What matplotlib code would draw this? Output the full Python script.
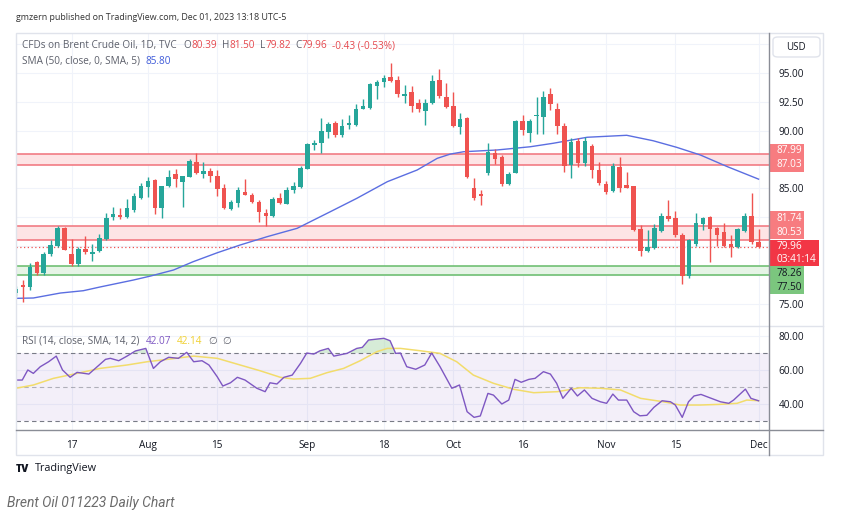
import matplotlib
matplotlib.use("Agg")
import matplotlib.pyplot as plt
from matplotlib.patches import Rectangle, FancyBboxPatch
from matplotlib.lines import Line2D

W, H = 843, 523
FONT = ['Open Sans', 'DejaVu Sans']

# ---- daily candles, Jul 5 .. Dec 1 2023 (bar index 0..107) ----
opens = [75.95, 76.65, 76.45, 78.6, 77.7, 79.33, 80.0, 81.55, 79.3, 78.45,
         79.76, 79.3, 79.6, 80.6, 82.5, 82.7, 82.5, 83.13, 84.2, 85.1,
         85.73, 83.28, 85.2, 86.24, 85.58, 85.96, 87.3, 86.27, 86.5, 86.07,
         85.0, 83.2, 83.77, 84.7, 84.43, 83.85, 82.9, 82.64, 84.2, 83.65,
         84.9, 85.1, 86.68, 88.72, 88.9, 89.9, 90.68, 89.6, 90.45, 90.48,
         91.86, 91.92, 93.85, 94.17, 94.65, 94.37, 93.0, 93.3, 92.36, 91.72,
         92.36, 94.37, 92.93, 92.12, 90.33, 91.06, 85.0, 84.49, 86.36, 88.09,
         87.69, 85.38, 86.36, 90.85, 89.76, 91.26, 91.2, 93.16, 91.84, 90.4,
         87.02, 89.12, 87.22, 88.66, 86.6, 85.38, 84.8, 86.88, 85.27, 85.2,
         81.46, 79.6, 79.82, 81.34, 82.6, 82.4, 80.97, 77.43, 80.2, 81.92,
         82.55, 81.55, 81.26, 80.2, 79.96, 81.34, 82.6, 80.39]
highs = [76.6, 77.08, 78.55, 78.75, 79.5, 80.5, 81.75, 81.7, 80.65, 79.95,
         80.9, 80.2, 81.1, 82.9, 83.4, 83.28, 84.06, 84.58, 85.49, 85.96,
         85.8, 85.2, 86.6, 86.65, 86.07, 87.51, 88.1, 87.3, 86.74, 86.6,
         85.38, 84.0, 85.1, 85.8, 84.58, 84.0, 83.2, 84.28, 84.63, 85.1,
         85.58, 86.9, 88.9, 89.18, 91.06, 90.77, 90.85, 91.0, 91.34, 92.3,
         92.7, 94.1, 94.37, 94.8, 95.86, 94.71, 93.94, 93.88, 92.7, 92.7,
         94.8, 95.3, 94.14, 93.3, 91.5, 91.15, 85.87, 84.86, 88.95, 88.38,
         87.89, 86.44, 90.9, 91.34, 90.97, 92.93, 93.44, 93.65, 92.41, 90.63,
         89.33, 89.33, 89.42, 88.84, 87.3, 85.67, 87.17, 87.74, 86.44, 85.2,
         81.84, 81.4, 81.92, 82.85, 84.0, 83.07, 81.12, 80.6, 82.9, 82.5,
         82.6, 81.69, 82.04, 80.97, 81.55, 82.9, 84.63, 81.50]
lows = [75.7, 75.18, 76.2, 77.5, 77.5, 79.2, 79.9, 79.65, 78.3, 78.3,
        79.3, 78.75, 79.5, 80.5, 82.27, 82.33, 82.42, 82.99, 84.06, 84.3,
        82.8, 82.4, 85.1, 85.1, 83.37, 85.96, 86.24, 85.9, 85.58, 84.34,
        83.22, 83.13, 83.4, 84.4, 83.76, 82.07, 81.75, 82.55, 83.65, 83.63,
        84.63, 85.05, 86.65, 88.3, 88.1, 89.33, 89.47, 89.42, 90.13, 90.42,
        91.84, 91.85, 92.75, 93.8, 94.2, 92.93, 92.36, 91.6, 91.63, 90.48,
        92.3, 92.79, 91.92, 90.33, 89.7, 85.9, 84.0, 83.57, 86.16, 87.1,
        85.23, 85.29, 86.3, 89.6, 89.04, 89.7, 89.7, 91.78, 89.7, 86.44,
        85.87, 86.88, 86.9, 85.87, 85.3, 84.52, 84.7, 84.72, 85.0, 81.34,
        79.2, 79.5, 79.74, 81.26, 82.2, 80.83, 76.74, 77.3, 80.02, 81.4,
        78.67, 80.02, 79.96, 79.1, 79.82, 81.26, 80.19, 79.82]
closes = [76.35, 76.48, 78.25, 77.7, 79.3, 80.1, 81.55, 79.7, 78.45, 79.8,
          79.48, 79.53, 80.7, 82.47, 82.8, 82.5, 83.3, 84.37, 85.2, 85.67,
          83.28, 85.2, 85.96, 85.79, 86.07, 87.4, 86.3, 86.5, 86.1, 84.95,
          83.33, 83.8, 84.86, 84.46, 83.85, 82.98, 82.64, 84.08, 83.76, 84.86,
          85.2, 86.8, 88.86, 88.95, 89.98, 90.57, 89.6, 90.4, 90.63, 91.84,
          92.12, 94.02, 94.2, 94.5, 94.28, 93.13, 93.18, 92.15, 91.86, 92.41,
          94.3, 93.0, 92.0, 90.42, 90.97, 85.96, 84.2, 84.37, 88.17, 87.54,
          85.38, 86.22, 90.85, 90.05, 90.85, 91.34, 92.93, 92.3, 90.4, 86.94,
          89.04, 87.22, 89.12, 86.6, 85.44, 84.71, 86.94, 85.0, 85.06, 81.4,
          79.6, 79.96, 81.55, 82.64, 82.33, 80.97, 77.43, 80.54, 81.98, 82.41,
          81.46, 80.97, 80.03, 79.96, 81.46, 82.6, 80.4, 79.96]

tick_idx = [8, 19, 29, 42, 53, 63, 73, 85, 95, 107]
tick_labels = ['17', 'Aug', '15', 'Sep', '18', 'Oct', '16', 'Nov', '15', 'Dec']

# SMA(50) read at points along the line
sma_idx = [0, 2.5, 6.4, 9.7, 12.1, 16.9, 19.4, 22.7, 25.5, 29, 32.3, 36.2, 38.1,
           40.5, 45.3, 49.1, 53.5, 57.8, 60.7, 62.6, 64.5, 69.3, 74.1, 77.4,
           82.3, 88, 91.8, 95.2, 98.6, 102.5, 107]
sma_vals = [75.5, 75.53, 75.96, 76.16, 76.48, 77.08, 77.43, 77.95, 78.66, 79.44,
            80.11, 80.83, 81.15, 81.55, 82.99, 84.14, 85.58, 86.59, 87.6, 87.97,
            88.17, 88.32, 88.6, 88.9, 89.42, 89.59, 89.12, 88.55, 87.89, 86.88, 85.8]

# RSI(14) vertices
rsi_idx = [0, 0.9, 1.7, 2.5, 3.5, 4.7, 5.8, 6.7, 7.8, 8.8, 10.5, 11.7, 12.9, 13.6,
           14.8, 16.0, 17.2, 18.7, 19.8, 20.8, 22.0, 23.4, 24.6, 25.6, 26.8, 27.8,
           29.0, 29.8, 30.9, 31.9, 33.0, 34.7, 35.9, 36.6, 37.6, 38.6, 39.8, 41.0,
           41.9, 42.9, 43.8, 45.0, 45.8, 47.7, 49.1, 49.9, 50.8, 53.0, 53.9, 54.7,
           55.4, 56.3, 57.6, 58.9, 59.9, 61.1, 62.8, 63.9, 65.0, 66.0, 66.9, 68.0,
           68.8, 70.0, 71.0, 71.9, 72.8, 73.9, 74.8, 76.0, 77.0, 77.9, 78.8, 80.0,
           80.9, 81.9, 83.0, 84.2, 85.1, 86.0, 86.8, 88.0, 89.0, 89.9, 90.9, 91.9,
           93.1, 94.3, 95.0, 96.0, 96.9, 97.7, 98.7, 99.8, 101.5, 102.7, 103.4,
           105.1, 105.9, 107]
rsi_vals = [54.2, 54.2, 60.1, 58.1, 62, 64.9, 68.2, 60.1, 55.8, 58.7, 57.7, 62,
            66.3, 66.9, 65.5, 68.2, 71.2, 72.7, 61, 64.9, 67.5, 66.9, 70.4, 64.9,
            65.5, 63, 56.1, 50.7, 52.6, 55.8, 54.2, 49.4, 47.4, 52.6, 51.9, 55.8,
            57.1, 64, 70, 69.4, 71.3, 72.7, 68.2, 69.8, 72.7, 73.3, 77.6, 78.6,
            77.2, 69.8, 70, 62, 60.5, 63, 70, 62, 49.4, 51.3, 35.7, 32.4, 33.2,
            46.4, 45.4, 40.2, 42.5, 54.6, 52.9, 54.6, 55.2, 59.1, 57.7, 52.3, 43.5,
            49.4, 44.9, 48.4, 43.5, 41.5, 40.6, 46, 42.5, 42.5, 35.7, 33.3, 33.6,
            38.2, 42.1, 41.5, 39.6, 32.4, 41.5, 44.9, 45.8, 44.1, 41.5, 40.6, 42.5,
            48.9, 43.5, 42.07]

# RSI-based moving average (SMA 14)
rsi_ma_idx = [0, 2.5, 5.4, 8.8, 12.1, 16, 18.9, 21.8, 25.6, 29, 32.3, 35.2, 38.1,
              40, 42.4, 44.8, 47.2, 49.6, 52, 53.5, 55.4, 58.3, 61.1, 63.5, 65.9,
              68.8, 71.7, 74.6, 78, 81.3, 84.2, 87.1, 90, 93.3, 95.7, 98.6, 101.5,
              103.9, 105.3, 107]
rsi_ma_vals = [49.4, 51.3, 55.2, 58.1, 61, 63, 64.9, 66.3, 68.2, 66.9, 63, 59.6,
               55.8, 54.8, 55.2, 58.5, 61, 65.5, 70.8, 72.7, 72.7, 71.3, 69.8, 64.9,
               57.1, 52.3, 48.8, 46.8, 47.4, 49.7, 49.4, 48.4, 43.5, 41.5, 39.6,
               39.6, 40, 40.6, 42.5, 42.14]

red_zones = [(87.03, 87.99), (80.53, 81.74)]
green_zone = (77.50, 78.26)
price_ticks = [75, 77.5, 80, 82.5, 85, 87.5, 90, 92.5, 95, 97.5]
price_tick_labels = ['75.00', '', '', '', '85.00', '', '90.00', '92.50', '95.00', '']
rsi_ticks = [40, 60, 80]
change, change_pct = -0.43, -0.53
timer = '03:41:14'

GREEN, RED = '#26a69a', '#ef5350'
SMA_C, RSI_C, RSI_MA_C = '#5b6ee1', '#7e57c2', '#f2dc6b'
TXT, GREY = '#131722', '#5d606b'

fig = plt.figure(figsize=(W / 100, H / 100), dpi=100)
fig.patch.set_facecolor('white')


def px_axes(x0, y0, x1, y1):
    return fig.add_axes([x0 / W, 1 - y1 / H, (x1 - x0) / W, (y1 - y0) / H])


def ftext(x, y, s, **kw):
    kw.setdefault('family', FONT)
    return fig.text(x / W, 1 - y / H, s, **kw)


def fline(xs, ys, **kw):
    fig.add_artist(Line2D([x / W for x in xs], [1 - y / H for y in ys],
                          transform=fig.transFigure, **kw))


def text_run(x, y, pieces, size):
    r = fig.canvas.get_renderer()
    for s, c, gap in pieces:
        t = ftext(x, y, s, color=c, fontsize=size, va='center', ha='left')
        x += t.get_window_extent(renderer=r).width + gap


XMAX = 108.5
YMIN, YMAX = 73.11, 98.43

# ---- price pane ----
ax = px_axes(16, 33, 769, 326)
ax.set_xlim(0, XMAX)
ax.set_ylim(YMIN, YMAX)
for s in ax.spines.values():
    s.set_visible(False)
ax.yaxis.tick_right()
ax.set_yticks(price_ticks, price_tick_labels)
ax.set_xticks(tick_idx, [''] * len(tick_idx))
ax.tick_params(length=0, labelsize=7.2, labelcolor=TXT, pad=7)
for lab in ax.get_yticklabels():
    lab.set_family(FONT)
ax.grid(True, color='#f0f3fa', lw=0.8)
ax.set_axisbelow(True)

for lo, hi in red_zones:
    ax.axhspan(lo, hi, color='#fde4e5', lw=0, zorder=1)
    ax.axhline(lo, color='#f0727a', lw=1.1, zorder=2)
    ax.axhline(hi, color='#f0727a', lw=1.1, zorder=2)
ax.axhspan(green_zone[0], green_zone[1], color='#e6f4e6', lw=0, zorder=1)
ax.axhline(green_zone[0], color='#66bb6a', lw=1.1, zorder=2)
ax.axhline(green_zone[1], color='#66bb6a', lw=1.1, zorder=2)
ax.axhline(closes[-1], color=RED, lw=0.9, ls=(0, (1, 2)), zorder=2)

ax.plot(sma_idx, sma_vals, color=SMA_C, lw=1.0, zorder=3)

for i, (o, h, l, c) in enumerate(zip(opens, highs, lows, closes)):
    col = GREEN if c >= o else RED
    ax.vlines(i, l, h, color=col, lw=1.0, zorder=4)
    ax.add_patch(Rectangle((i - 0.33, min(o, c)), 0.66, max(abs(c - o), 0.09),
                           facecolor=col, edgecolor='none', zorder=5))

# ---- RSI pane ----
ax2 = px_axes(16, 326, 769, 430)
ax2.set_xlim(0, XMAX)
ax2.set_ylim(25.0, 85.8)
for s in ax2.spines.values():
    s.set_visible(False)
ax2.yaxis.tick_right()
ax2.set_yticks(rsi_ticks, [f'{v:.2f}' for v in rsi_ticks])
ax2.set_xticks(tick_idx, tick_labels)
ax2.tick_params(length=0, labelsize=7.2, labelcolor=TXT)
ax2.tick_params(axis='y', pad=7)
ax2.tick_params(axis='x', pad=7)
for lab in ax2.get_yticklabels() + ax2.get_xticklabels():
    lab.set_family(FONT)
ax2.grid(True, color='#f0f3fa', lw=0.8)
ax2.set_axisbelow(True)
ax2.axhspan(30, 70, color=RSI_C, alpha=0.09, lw=0)
for lvl, a in [(70, 1.0), (50, 0.55), (30, 1.0)]:
    ax2.axhline(lvl, color='#787b86', lw=0.8, ls=(0, (4, 3)), alpha=a)
ax2.fill_between(rsi_idx, rsi_vals, 70, where=[v > 70 for v in rsi_vals],
                 interpolate=True, color='#a5d6a7', alpha=0.45, lw=0)
ax2.plot(rsi_ma_idx, rsi_ma_vals, color=RSI_MA_C, lw=1.1)
ax2.plot(rsi_idx, rsi_vals, color=RSI_C, lw=1.0)

# ---- price tags on the right axis ----
axt = px_axes(769, 33, 823, 326)
axt.set_xlim(0, 1)
axt.set_ylim(YMIN, YMAX)
axt.axis('off')
ppu = 293 / (YMAX - YMIN)
tags = [
    (red_zones[0][1], -3, f'{red_zones[0][1]:.2f}', '#f77c80', 'white', 0.64),
    (red_zones[0][0], 0, f'{red_zones[0][0]:.2f}', '#f77c80', 'white', 0.64),
    (red_zones[1][1], -8, f'{red_zones[1][1]:.2f}', '#f77c80', 'white', 0.64),
    (red_zones[1][0], -8, f'{red_zones[1][0]:.2f}', '#f77c80', 'white', 0.64),
    (closes[-1], 0, f'{closes[-1]:.2f}', '#f23645', 'white', 0.93),
    (closes[-1], 12.5, timer, '#f23645', 'white', 0.93),
    (green_zone[1], 7, f'{green_zone[1]:.2f}', '#7bc67e', TXT, 0.64),
    (green_zone[0], 12, f'{green_zone[0]:.2f}', '#7bc67e', TXT, 0.64),
]
for lvl, off, s, fc, tc, wd in tags:
    yc = lvl - off / ppu
    axt.add_patch(Rectangle((0, yc - 7 / ppu), wd, 14 / ppu, facecolor=fc,
                            edgecolor='none', zorder=2))
    axt.text(0.13, yc, s, color=tc, fontsize=7.2, va='center', ha='left',
             family=FONT, zorder=3)

# ---- frame and separators ----
fig.add_artist(Rectangle((16 / W, 1 - 455 / H), (823 - 16) / W, (455 - 33) / H,
                         transform=fig.transFigure, fill=False,
                         edgecolor='#e0e3eb', lw=1))
fline([16, 823], [326, 326], color='#e0e3eb', lw=1)
fline([16, 823], [430, 430], color='#8a8d96', lw=1)
fline([769, 769], [33, 455], color='#8a8d96', lw=1)
fig.add_artist(FancyBboxPatch((773 / W, 1 - 57 / H), 47 / W, 20 / H,
                              boxstyle='round,pad=0,rounding_size=0.006',
                              transform=fig.transFigure, facecolor='white',
                              edgecolor='#e0e3eb', lw=1))
ftext(796, 47, 'USD', fontsize=7, color=TXT, ha='center', va='center')

# ---- header / legends ----
ftext(16, 18, 'gmzern published on TradingView.com, Dec 01, 2023 13:18 UTC-5',
      fontsize=6.4, color='#333333', va='center')
HL = '#e5484d'
text_run(22, 45.5, [('CFDs on Brent Crude Oil, 1D, TVC', GREY, 7),
                    ('O', GREY, 0), (f'{opens[-1]:.2f}', HL, 5),
                    ('H', GREY, 0), (f'{highs[-1]:.2f}', HL, 5),
                    ('L', GREY, 0), (f'{lows[-1]:.2f}', HL, 5),
                    ('C', GREY, 0), (f'{closes[-1]:.2f}', HL, 4),
                    (f'{change:.2f} ({change_pct:.2f}%)', HL, 0)], 7.2)
text_run(22, 61, [('SMA (50, close, 0, SMA, 5)', GREY, 6),
                  (f'{sma_vals[-1]:.2f}', '#3f5bd9', 0)], 7.2)
text_run(22, 341, [('RSI (14, close, SMA, 14, 2)', GREY, 6),
                   (f'{rsi_vals[-1]:.2f}', RSI_C, 6),
                   (f'{rsi_ma_vals[-1]:.2f}', '#f0d030', 6),
                   ('∅', GREY, 5), ('∅', GREY, 0)], 7.2)

# ---- footer ----
ftext(16, 469, 'TV', fontsize=7.5, color=TXT, weight='heavy', va='center')
ftext(35, 469, 'TradingView', fontsize=7.8, color=TXT, va='center')
ftext(7, 503, 'Brent Oil 011223 Daily Chart', fontsize=10, color='#6b6b6b',
      style='italic', va='center', family=['Roboto', 'DejaVu Sans'])

fig.savefig('out.png', dpi=100)
